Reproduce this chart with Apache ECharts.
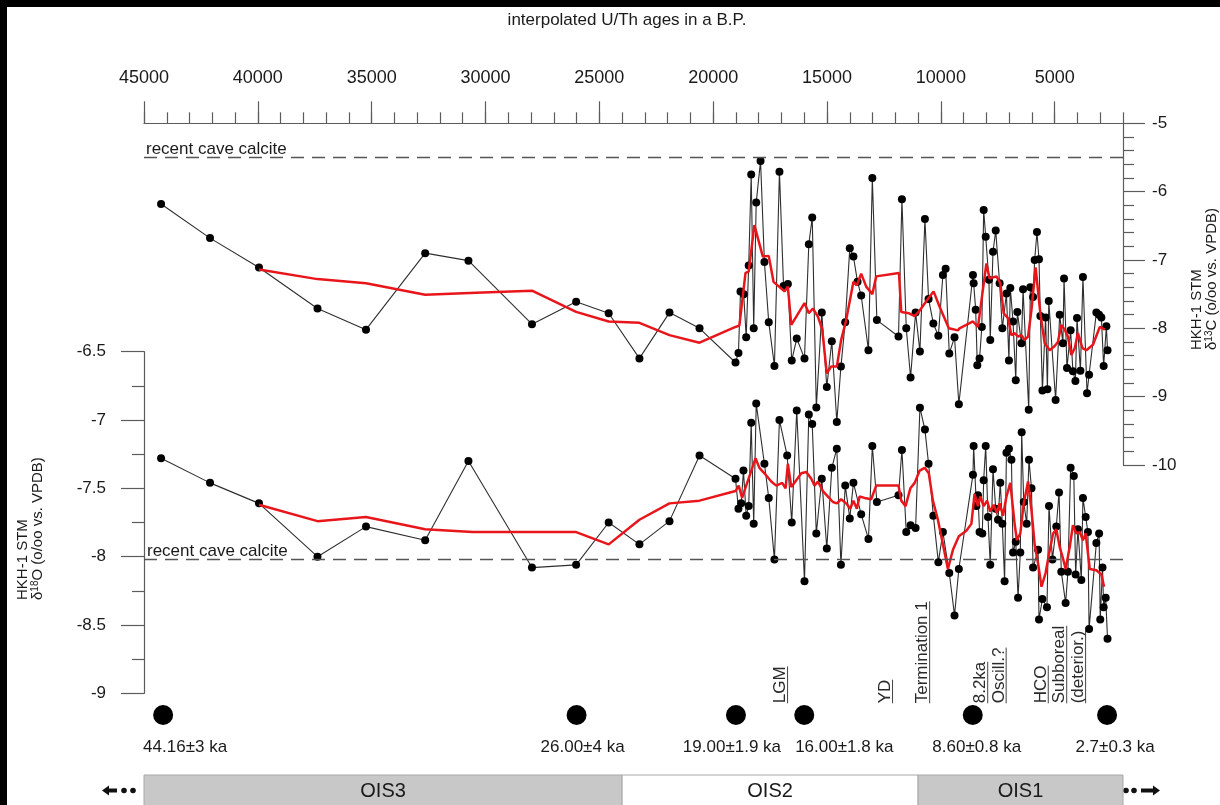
<!DOCTYPE html>
<html>
<head>
<meta charset="utf-8">
<title>HKH-1 STM stable isotope record</title>
<script src="https://cdn.jsdelivr.net/npm/echarts@6/dist/echarts.min.js"></script>
<style>
  html, body { margin: 0; padding: 0; background: #fff; }
  #chart { width: 1220px; height: 805px; }
</style>
</head>
<body>
<div id="chart"></div>
<script>
// ---- top age axis ----------------------------------------------------------
const topTitle = 'interpolated U/Th ages in a B.P.';
const ageTicks = [45000, 40000, 35000, 30000, 25000, 20000, 15000, 10000, 5000];

// ---- delta 13C record (age a B.P., per mil VPDB) ---------------------------
const ages13 = [44250,42100,39950,37380,35250,32650,30750,27960,26020,24590,
  23240,21920,20600,19020,18890,18800,18660,18550,18440,18330,
  18220,18110,17920,17750,17560,17310,17090,16910,16720,16550,
  16330,15990,15800,15650,15470,15230,15010,14790,14570,14390,
  14200,14000,13840,13660,13500,13180,13010,12810,11860,11710,
  11520,11330,11110,10920,10700,10540,10330,10110,9910,9790,
  9630,9400,9210,8590,8560,8470,8400,8300,8200,8120,
  8030,7890,7830,7710,7590,7420,7300,7120,7010,6950,
  6830,6710,6640,6460,6390,6140,6070,5950,5880,5780,
  5690,5630,5540,5400,5320,5260,4960,4780,4640,4590,
  4460,4300,4200,4090,4020,3870,3760,3580,3490,3170,
  3050,2950,2850,2730,2680];
const d13 = [-6.18,-6.68,-7.11,-7.71,-8.02,-6.90,-7.01,-7.94,-7.61,-7.78,
  -8.44,-7.77,-8.00,-8.50,-8.36,-7.46,-7.50,-8.13,-7.08,-5.75,
  -8.00,-6.16,-5.55,-7.03,-7.91,-8.55,-5.71,-7.38,-7.35,-8.47,
  -8.15,-8.44,-6.77,-6.38,-9.16,-7.77,-8.86,-8.19,-9.37,-8.56,
  -7.91,-6.83,-6.95,-7.32,-7.52,-8.32,-5.80,-7.88,-8.12,-6.11,
  -8.00,-8.72,-7.77,-8.34,-6.40,-7.57,-7.93,-8.11,-7.22,-7.13,
  -8.37,-8.13,-9.11,-7.22,-7.34,-7.73,-8.54,-8.44,-7.98,-6.27,
  -6.66,-7.29,-8.17,-6.88,-6.57,-7.34,-8.00,-7.49,-8.47,-7.41,
  -7.90,-8.76,-7.76,-8.22,-7.43,-9.19,-7.40,-7.54,-7.00,-6.59,
  -6.99,-7.82,-8.91,-7.84,-8.89,-7.60,-9.05,-7.80,-8.22,-7.27,
  -8.58,-8.03,-8.63,-8.77,-7.85,-8.62,-7.25,-8.95,-8.68,-7.77,
  -7.80,-7.84,-8.55,-7.97,-8.32];

// running mean of delta 13C
const meanAges13 = [39950,37380,35250,32650,30420,27960,26020,24590,23240,21920,
  20600,19020,18850,18580,18440,18190,17820,17560,17350,16870,
  16720,16570,15990,15800,15620,15400,15210,15010,14820,14570,
  14380,14160,13840,13690,13500,13280,13010,12840,11840,11740,
  11400,11150,10930,10570,10320,10060,9650,9250,9180,8590,
  8370,8000,7860,7560,7390,7240,7050,6900,6760,6610,
  6460,6320,6170,6020,5840,5630,5440,5220,5000,4860,
  4710,4560,4420,4270,4120,3980,3780,3610,3320,3020,
  2800];
const mean13 = [-7.14,-7.28,-7.34,-7.51,-7.48,-7.45,-7.76,-7.90,-7.92,-8.10,
  -8.21,-7.98,-7.96,-7.19,-7.17,-6.49,-6.95,-6.94,-7.32,-7.46,
  -7.39,-7.95,-7.63,-7.78,-7.71,-7.83,-8.02,-8.66,-8.56,-8.56,
  -8.17,-7.88,-7.32,-7.37,-7.20,-7.39,-7.50,-7.24,-7.19,-7.76,
  -7.78,-7.82,-7.74,-7.57,-7.46,-7.68,-8.00,-8.03,-8.00,-7.90,
  -7.98,-7.05,-7.27,-7.24,-7.34,-7.78,-7.85,-8.10,-8.07,-8.12,
  -8.10,-8.17,-8.12,-7.73,-7.11,-7.78,-8.22,-8.32,-8.26,-8.20,
  -7.95,-8.02,-8.12,-8.39,-8.29,-8.07,-8.29,-8.32,-8.24,-7.98,
  -8.02];

// ---- delta 18O record (age a B.P., per mil VPDB) ---------------------------
const ages18 = [44250,42100,39950,37380,35250,32650,30750,27960,26020,24590,
  23240,21920,20600,19020,18890,18770,18670,18550,18440,18330,
  18220,18110,17750,17560,17310,17090,16750,16550,16330,15990,
  15800,15650,15470,15230,15010,14790,14570,14390,14200,14000,
  13840,13500,13180,13010,12810,11860,11710,11520,11330,11110,
  10920,10700,10540,10330,10110,9910,9630,9400,9210,8590,
  8560,8440,8370,8300,8180,8120,8030,7930,7830,7710,
  7590,7490,7390,7300,7200,7120,7010,6900,6830,6710,
  6610,6510,6450,6360,6230,6130,6020,5950,5730,5690,
  5540,5340,5250,5100,4930,4810,4710,4520,4420,4300,
  4160,4080,3980,3830,3760,3640,3540,3490,3170,3050,
  3000,2900,2850,2760,2680];
const d18 = [-7.28,-7.46,-7.61,-8.00,-7.78,-7.88,-7.30,-8.08,-8.06,-7.75,
  -7.91,-7.74,-7.26,-7.43,-7.65,-7.61,-7.37,-7.70,-7.63,-7.02,
  -7.76,-6.88,-7.32,-7.57,-8.02,-7.00,-7.26,-7.75,-6.93,-8.18,
  -6.96,-7.03,-7.83,-7.43,-7.94,-7.35,-7.21,-8.06,-7.48,-7.72,
  -7.46,-7.69,-7.87,-7.19,-7.60,-7.55,-7.22,-7.82,-7.77,-7.79,
  -6.91,-7.07,-7.32,-7.70,-8.04,-7.82,-8.12,-8.43,-8.09,-7.40,
  -7.19,-7.63,-7.55,-7.82,-7.83,-7.44,-7.19,-7.71,-8.06,-7.36,
  -7.65,-7.73,-7.46,-7.76,-8.18,-7.24,-7.21,-7.29,-7.97,-7.89,
  -8.30,-7.97,-7.09,-7.60,-7.76,-7.29,-7.50,-8.08,-7.95,-8.46,
  -8.31,-8.37,-7.63,-8.02,-7.78,-7.53,-8.11,-8.34,-8.11,-7.35,
  -7.41,-8.13,-7.80,-8.17,-7.57,-7.71,-7.82,-8.53,-7.90,-7.83,
  -8.46,-8.08,-8.37,-8.30,-8.60];

// running mean of delta 18O
const meanAges18 = [39950,37380,35250,32650,30570,27960,26020,24590,23240,21920,
  20600,19020,18880,18730,18550,18140,17970,17750,17450,17230,
  16970,16820,16720,16570,16350,16130,15910,15690,15550,15400,
  15180,14960,14740,14570,14380,14160,13980,13840,13690,13570,
  13350,13060,12840,11860,11740,11550,11340,11150,10930,10710,
  10530,10350,10130,9910,9690,9470,9210,8880,8660,8520,
  8370,8270,8120,7970,7830,7680,7540,7420,7270,7120,
  6950,6760,6660,6510,6360,6170,6020,5880,5730,5580,
  5400,5250,5070,4930,4780,4640,4520,4340,4200,4050,
  3900,3760,3640,3460,3170,2950,2830];
const mean18 = [-7.62,-7.74,-7.71,-7.80,-7.82,-7.82,-7.82,-7.91,-7.73,-7.61,
  -7.59,-7.52,-7.48,-7.57,-7.48,-7.28,-7.35,-7.39,-7.45,-7.48,
  -7.46,-7.50,-7.32,-7.49,-7.44,-7.39,-7.38,-7.43,-7.48,-7.45,
  -7.52,-7.56,-7.60,-7.61,-7.58,-7.61,-7.65,-7.59,-7.65,-7.56,
  -7.57,-7.58,-7.48,-7.48,-7.59,-7.63,-7.50,-7.46,-7.37,-7.35,
  -7.39,-7.59,-7.73,-7.91,-8.09,-7.95,-7.85,-7.81,-7.76,-7.54,
  -7.63,-7.56,-7.63,-7.59,-7.67,-7.62,-7.68,-7.61,-7.70,-7.56,
  -7.46,-7.76,-7.88,-7.83,-7.61,-7.45,-7.66,-7.91,-8.05,-8.22,
  -8.12,-7.98,-7.83,-7.80,-7.93,-8.01,-8.09,-7.93,-7.77,-7.83,
  -7.82,-7.88,-7.83,-8.09,-8.10,-8.13,-8.22];

// recent cave calcite reference values
const calcite13 = -5.5;
const calcite18 = -8.02;
const calciteText = 'recent cave calcite';

// ---- U/Th dating points ----------------------------------------------------
const datingAges = [44160, 26000, 19000, 16000, 8600, 2700];
const datingLabels = ['44.16±3 ka', '26.00±4 ka', '19.00±1.9 ka', '16.00±1.8 ka', '8.60±0.8 ka', '2.7±0.3 ka'];

// ---- climate events --------------------------------------------------------
const eventNames = ['LGM', 'YD', 'Termination 1', '8.2ka', 'Oscill.?', 'HCO', 'Subboreal', '(deterior.)'];
const eventAges = [17040, 12430, 10800, 8250, 7440, 5590, 4780, 3950];

// ---- oxygen isotope stages -------------------------------------------------
const oisNames = ['OIS3', 'OIS2', 'OIS1'];
const oisStart = [45000, 24000, 11000];
const oisEnd = [24000, 11000, 2000];

// ---------------------------------------------------------------------------
const FONT = '"Liberation Sans", Arial, Helvetica, sans-serif';
const INK = '#1a1a1a';
const AXIS = '#5c5c5c';
const RED = '#e8161b';
const pairs = (xs, ys) => xs.map((x, i) => [x, ys[i]]);
const labelShift = [22, 6, -4, 40, 4, 8];
const oisFill = ['#c8c8c8', '#ffffff', '#c8c8c8'];

const chart = echarts.init(document.getElementById('chart'), null, { renderer: 'canvas' });

const axisLineStyle = { color: AXIS, width: 1.2 };
const hiddenX = (g) => ({ gridIndex: g, type: 'value', min: 2000, max: 45000, inverse: true, show: false });

const option = {
  animation: false,
  backgroundColor: '#ffffff',
  textStyle: { fontFamily: FONT },
  grid: [
    { left: 144, width: 979, top: 123.3, height: 341.7, containLabel: false, outerBoundsMode: 'none' },
    { left: 144, width: 979, top: 351.7, height: 341.6, containLabel: false, outerBoundsMode: 'none' },
    { left: 144, width: 979, top: 700, height: 30, containLabel: false, outerBoundsMode: 'none' },
    { left: 144, width: 979, top: 775, height: 40, containLabel: false, outerBoundsMode: 'none' }
  ],
  xAxis: [
    { // 1000-year ticks along the top
      gridIndex: 0, type: 'value', position: 'top', min: 2000, max: 45000, inverse: true, interval: 1000,
      axisLine: { show: true, onZero: false, lineStyle: axisLineStyle },
      axisTick: { show: true, length: 11, lineStyle: axisLineStyle },
      axisLabel: { show: false }, splitLine: { show: false }
    },
    { // 5000-year ticks and labels
      gridIndex: 0, type: 'value', position: 'top', min: 2000, max: 45000, inverse: true,
      axisLine: { show: false, onZero: false },
      axisTick: { show: true, length: 22, customValues: ageTicks, lineStyle: axisLineStyle },
      axisLabel: { show: true, customValues: ageTicks, margin: 36, fontSize: 18, color: INK,
        fontFamily: FONT, formatter: (v) => String(v) },
      splitLine: { show: false }
    },
    hiddenX(1), hiddenX(2), hiddenX(3)
  ],
  yAxis: [
    {
      gridIndex: 0, type: 'value', position: 'right', min: -10, max: -5, interval: 1,
      axisLine: { show: true, onZero: false, lineStyle: axisLineStyle },
      axisTick: { show: true, length: 22, lineStyle: axisLineStyle },
      minorTick: { show: true, splitNumber: 5, length: 11, lineStyle: axisLineStyle },
      axisLabel: { margin: 29, fontSize: 17, color: INK, fontFamily: FONT },
      splitLine: { show: false }, minorSplitLine: { show: false }
    },
    {
      gridIndex: 1, type: 'value', position: 'left', min: -9, max: -6.5, interval: 0.5,
      axisLine: { show: true, onZero: false, lineStyle: axisLineStyle },
      axisTick: { show: true, length: 23, lineStyle: axisLineStyle },
      minorTick: { show: true, splitNumber: 2, length: 12, lineStyle: axisLineStyle },
      axisLabel: { margin: 38, fontSize: 17, color: INK, fontFamily: FONT },
      splitLine: { show: false }, minorSplitLine: { show: false }
    },
    { gridIndex: 2, type: 'value', min: 0, max: 1, show: false },
    { gridIndex: 3, type: 'value', min: 0, max: 1, show: false }
  ],
  series: [
    {
      name: 'd13C', type: 'line', xAxisIndex: 0, yAxisIndex: 0, z: 2,
      data: pairs(ages13, d13),
      symbol: 'circle', symbolSize: 8, showSymbol: true,
      lineStyle: { color: '#2e2e2e', width: 1.1 },
      itemStyle: { color: '#000', opacity: 1 },
      markLine: {
        silent: true, symbol: ['none', 'none'], animation: false,
        label: { show: false },
        lineStyle: { color: '#555', width: 1.4, type: [13, 8] },
        data: [{ yAxis: calcite13 }]
      }
    },
    {
      name: 'd13C mean', type: 'line', xAxisIndex: 0, yAxisIndex: 0, z: 3,
      data: pairs(meanAges13, mean13), showSymbol: false, symbol: 'none',
      lineStyle: { color: RED, width: 2.5 }
    },
    {
      name: 'd18O', type: 'line', xAxisIndex: 2, yAxisIndex: 1, z: 2,
      data: pairs(ages18, d18),
      symbol: 'circle', symbolSize: 8, showSymbol: true,
      lineStyle: { color: '#2e2e2e', width: 1.1 },
      itemStyle: { color: '#000', opacity: 1 },
      markLine: {
        silent: true, symbol: ['none', 'none'], animation: false,
        label: { show: false },
        lineStyle: { color: '#555', width: 1.4, type: [13, 8] },
        data: [{ yAxis: calcite18 }]
      }
    },
    {
      name: 'd18O mean', type: 'line', xAxisIndex: 2, yAxisIndex: 1, z: 3,
      data: pairs(meanAges18, mean18), showSymbol: false, symbol: 'none',
      lineStyle: { color: RED, width: 2.5 }
    },
    {
      name: 'U/Th dates', type: 'scatter', xAxisIndex: 3, yAxisIndex: 2, clip: false,
      symbol: 'circle', symbolSize: 20, itemStyle: { color: '#000', opacity: 1 },
      data: datingAges.map((a, i) => ({ value: [a, 0.5], label: { offset: [labelShift[i], 0] } })),
      label: {
        show: true, position: 'bottom', distance: 14, fontSize: 17, color: INK, fontFamily: FONT,
        formatter: (p) => datingLabels[p.dataIndex]
      }
    },
    {
      name: 'OIS', type: 'custom', xAxisIndex: 4, yAxisIndex: 3, clip: false,
      data: oisStart.map((s, i) => [s, oisEnd[i], i]),
      encode: { x: [0, 1] },
      renderItem: (params, api) => {
        const i = api.value(2);
        const a = api.coord([api.value(0), 1]);
        const b = api.coord([api.value(1), 0]);
        const x0 = Math.min(a[0], b[0]);
        const w = Math.abs(b[0] - a[0]);
        return {
          type: 'group',
          children: [
            { type: 'rect', shape: { x: x0, y: a[1], width: w, height: b[1] - a[1] },
              style: { fill: oisFill[i], stroke: '#a8a8a8', lineWidth: 1 } },
            { type: 'text', x: x0 + w / 2, y: a[1] + 16,
              style: { text: oisNames[i], fill: INK, font: '20px ' + FONT, align: 'center', verticalAlign: 'middle' } }
          ]
        };
      }
    }
  ]
};

chart.setOption(option);

// ---- annotations placed through the axes ------------------------------------
const measure = document.createElement('canvas').getContext('2d');
const textWidth = (t, px) => { measure.font = px + 'px ' + FONT; return measure.measureText(t).width; };
const px13 = (age, v) => chart.convertToPixel({ gridIndex: 0 }, [age, v]);
const px18 = (age, v) => chart.convertToPixel({ gridIndex: 1 }, [age, v]);

const graphics = [];

// frame bars
graphics.push({ type: 'rect', shape: { x: 0, y: 0, width: 1220, height: 7 }, style: { fill: '#000' }, z: 50 });
graphics.push({ type: 'rect', shape: { x: 0, y: 0, width: 7, height: 805 }, style: { fill: '#000' }, z: 50 });

// title above the age axis
graphics.push({ type: 'text', x: 627, y: 20,
  style: { text: topTitle, font: '17px ' + FONT, fill: INK, align: 'center', verticalAlign: 'middle' } });

// calcite reference labels
const c13 = px13(45000, calcite13);
graphics.push({ type: 'text', x: c13[0] + 2, y: c13[1] - 8,
  style: { text: calciteText, font: '17px ' + FONT, fill: INK, align: 'left', verticalAlign: 'middle' } });
const c18 = px18(45000, calcite18);
graphics.push({ type: 'text', x: c18[0] + 3, y: c18[1] - 8,
  style: { text: calciteText, font: '17px ' + FONT, fill: INK, align: 'left', verticalAlign: 'middle' } });

// rotated axis titles
const rotTitle = (x, y, text, rich) => ({
  type: 'text', x: x, y: y, rotation: Math.PI / 2,
  style: { text: text, rich: rich, font: '15px ' + FONT, fill: INK, align: 'left', verticalAlign: 'middle' }
});
const supRich = {
  a: { fontSize: 15, fontFamily: FONT, fill: INK },
  s: { fontSize: 10, fontFamily: FONT, fill: INK, verticalAlign: 'top', lineHeight: 10 }
};
graphics.push(rotTitle(23, 600, 'HKH-1 STM'));
graphics.push(rotTitle(38, 600, '{a|δ}{s|18}{a|O (o/oo vs. VPDB)}', supRich));
graphics.push(rotTitle(1197, 350, 'HKH-1 STM'));
graphics.push(rotTitle(1212, 350, '{a|δ}{s|13}{a|C (o/oo vs. VPDB)}', supRich));

// underlined, rotated event names
const eventBase = px18(45000, -9)[1] + 10;
eventNames.forEach((name, i) => {
  const x = px18(eventAges[i], -9)[0];
  const w = textWidth(name, 17);
  graphics.push({
    type: 'group', x: x, y: eventBase, rotation: Math.PI / 2,
    children: [
      { type: 'text', x: 0, y: 0,
        style: { text: name, font: '17px ' + FONT, fill: '#2a2a2a', align: 'left', verticalAlign: 'middle' } },
      { type: 'line', shape: { x1: 0, y1: 7, x2: w, y2: 7 }, style: { stroke: '#444', lineWidth: 1 } }
    ]
  });
});

// continuation markers beside the stage band
const arrowY = 790.5;
graphics.push({ type: 'polygon', shape: { points: [[102, arrowY], [109, arrowY - 5], [109, arrowY - 2], [117, arrowY - 2], [117, arrowY + 2], [109, arrowY + 2], [109, arrowY + 5]] }, style: { fill: '#111' } });
graphics.push({ type: 'circle', shape: { cx: 124, cy: arrowY, r: 2.8 }, style: { fill: '#111' } });
graphics.push({ type: 'circle', shape: { cx: 133, cy: arrowY, r: 2.8 }, style: { fill: '#111' } });
graphics.push({ type: 'circle', shape: { cx: 1126, cy: arrowY, r: 2.8 }, style: { fill: '#111' } });
graphics.push({ type: 'circle', shape: { cx: 1134, cy: arrowY, r: 2.8 }, style: { fill: '#111' } });
graphics.push({ type: 'polygon', shape: { points: [[1160, arrowY], [1153, arrowY - 5], [1153, arrowY - 2], [1141, arrowY - 2], [1141, arrowY + 2], [1153, arrowY + 2], [1153, arrowY + 5]] }, style: { fill: '#111' } });

chart.setOption({ graphic: graphics });
</script>
</body>
</html>
